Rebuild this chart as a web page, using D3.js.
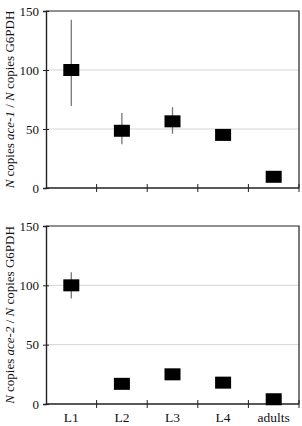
<!DOCTYPE html>
<html>
<head>
<meta charset="utf-8">
<script src="https://cdnjs.cloudflare.com/ajax/libs/d3/7.8.5/d3.min.js"></script>
<style>
	body { margin: 0; background: #fff; }
	text { font-family: "Liberation Serif", "Times New Roman", serif; }
</style>
</head>
<body>
<div id="chart"></div>
<script>

// categories
let stages = ["L1", "L2", "L3", "L4", "adults"];
let yTicks = [0, 50, 100, 150];

// ace-1 relative copies (% of L1) and error bar ends (null = none drawn)
let ace1Values = [100, 48.5, 56.5, 45, 9.5];
let ace1ErrLow = [69.5, 37, 46, null, null];
let ace1ErrHigh = [142.5, 63.5, 68.5, null, null];

// ace-2 relative copies
let ace2Values = [100, 17, 25, 18, 4];
let ace2ErrLow = [89, null, null, null, null];
let ace2ErrHigh = [111, null, null, null, null];

class StagePanel {

	constructor(svg, top, height, gene, values, errLow, errHigh, showLabels) {
		this.svg = svg;
		this.top = top;
		this.height = height;
		this.gene = gene;
		this.values = values;
		this.errLow = errLow;
		this.errHigh = errHigh;
		this.showLabels = showLabels;

		this.initVis();
	}

	initVis() {
		let vis = this;

		vis.left = 46;
		vis.right = 299;

		vis.g = vis.svg.append("g")
			.attr("transform", "translate(0," + vis.top + ")");

		// scales
		vis.x = d3.scaleBand()
			.domain(stages)
			.range([vis.left, vis.right]);

		vis.y = d3.scaleLinear()
			.domain([0, 150])
			.range([vis.height, 0]);

		// grid lines
		vis.g.selectAll(".grid")
			.data(yTicks.filter(d => d > 0 && d < 150))
			.enter().append("line")
			.attr("x1", vis.left)
			.attr("x2", vis.right)
			.attr("y1", d => vis.y(d))
			.attr("y2", d => vis.y(d))
			.attr("stroke", "#d4d4d4")
			.attr("stroke-width", 1);

		// top and right frame
		vis.g.append("path")
			.attr("d", "M" + vis.left + "," + vis.y(150) + "H" + vis.right + "V" + vis.y(0))
			.attr("fill", "none")
			.attr("stroke", "#222")
			.attr("stroke-width", 1.2);

		// y axis
		let yAxis = d3.axisLeft(vis.y)
			.tickValues(yTicks)
			.tickSize(3)
			.tickPadding(4);

		let yg = vis.g.append("g")
			.attr("transform", "translate(" + vis.left + ",0)")
			.call(yAxis);
		yg.select(".domain").attr("stroke", "#222").attr("stroke-width", 1.4);
		yg.selectAll(".tick line").attr("x2", 3).attr("x1", -3).attr("stroke", "#222");
		yg.selectAll(".tick text")
			.attr("font-size", 13)
			.attr("fill", "#111")
			.attr("font-family", "Liberation Serif, serif");

		// x axis: ticks at band edges, crossing the line
		let edges = stages.map(s => vis.x(s)).concat([vis.right]);
		vis.g.append("line")
			.attr("x1", vis.left)
			.attr("x2", vis.right)
			.attr("y1", vis.y(0))
			.attr("y2", vis.y(0))
			.attr("stroke", "#222")
			.attr("stroke-width", 1.4);
		vis.g.selectAll(".xtick")
			.data(edges.slice(1))
			.enter().append("line")
			.attr("x1", d => d)
			.attr("x2", d => d)
			.attr("y1", vis.y(0) - 4)
			.attr("y2", vis.y(0) + 4)
			.attr("stroke", "#222")
			.attr("stroke-width", 1);

		if (vis.showLabels) {
			vis.g.selectAll(".xlabel")
				.data(stages)
				.enter().append("text")
				.attr("x", d => vis.x(d) + vis.x.bandwidth() / 2)
				.attr("y", vis.y(0) + 18)
				.attr("text-anchor", "middle")
				.attr("font-size", 13.5)
				.attr("fill", "#111")
				.text(d => d);
		}

		// error bars
		let errData = stages.map((s, i) => ({stage: s, lo: vis.errLow[i], hi: vis.errHigh[i]}))
			.filter(d => d.lo !== null);

		vis.g.selectAll(".err")
			.data(errData)
			.enter().append("line")
			.attr("x1", d => vis.x(d.stage) + vis.x.bandwidth() / 2)
			.attr("x2", d => vis.x(d.stage) + vis.x.bandwidth() / 2)
			.attr("y1", d => vis.y(d.lo))
			.attr("y2", d => vis.y(d.hi))
			.attr("stroke", "#777")
			.attr("stroke-width", 1.3);

		// markers
		let mw = 16, mh = 12;
		vis.g.selectAll(".marker")
			.data(stages.map((s, i) => ({stage: s, value: vis.values[i]})))
			.enter().append("rect")
			.attr("x", d => vis.x(d.stage) + vis.x.bandwidth() / 2 - mw / 2)
			.attr("y", d => vis.y(d.value) - mh / 2)
			.attr("width", mw)
			.attr("height", mh)
			.attr("fill", "#000");

		// y label
		let cy = vis.height / 2;
		let label = vis.g.append("text")
			.attr("transform", "translate(14," + cy + ") rotate(-90)")
			.attr("text-anchor", "middle")
			.attr("font-size", 13)
			.attr("fill", "#111");
		label.append("tspan").attr("font-style", "italic").text("N");
		label.append("tspan").text(" copies ");
		label.append("tspan").attr("font-style", "italic").text(vis.gene);
		label.append("tspan").text(" / ");
		label.append("tspan").attr("font-style", "italic").text("N");
		label.append("tspan").text(" copies G6PDH");
	}
}

let svg = d3.select("#chart").append("svg")
	.attr("width", 302)
	.attr("height", 426);

new StagePanel(svg, 11, 177, "ace-1", ace1Values, ace1ErrLow, ace1ErrHigh, false);
new StagePanel(svg, 226, 178, "ace-2", ace2Values, ace2ErrLow, ace2ErrHigh, true);

</script>
</body>
</html>
